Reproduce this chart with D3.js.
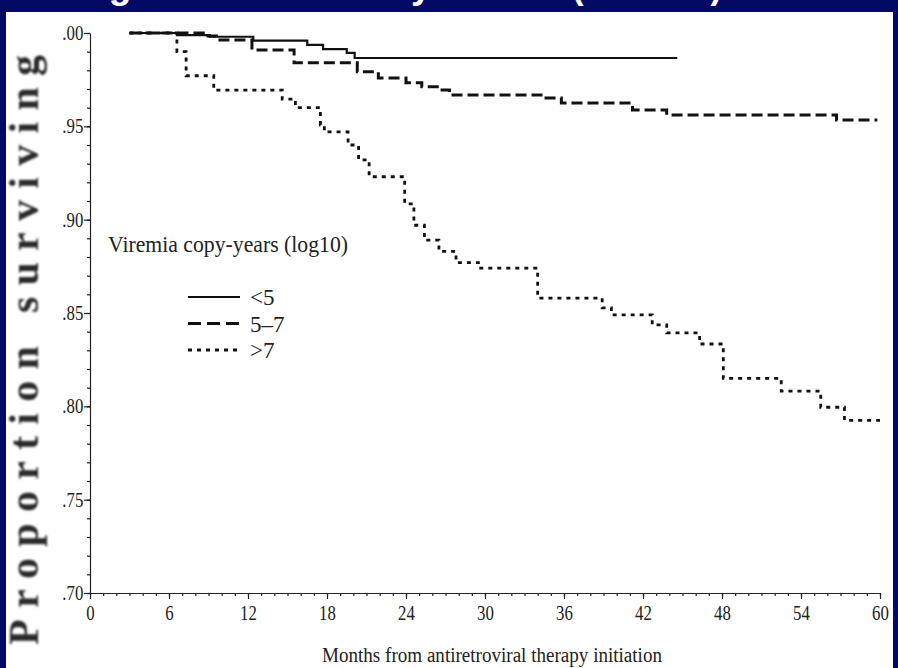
<!DOCTYPE html>
<html>
<head>
<meta charset="utf-8">
<script src="https://cdn.jsdelivr.net/npm/d3@7/dist/d3.min.js"></script>
<style>
  html, body { margin: 0; padding: 0; background: #020a66; }
  svg { display: block; }
</style>
</head>
<body>
<div id="vis"></div>
<script>
// ---- data ----
const titleMain = "Long-term Survival by VCY";
const titleNote = "(3 Strata)";
const groups = ["<5", "5\u20137", ">7"];

// Kaplan-Meier steps (months, proportion surviving)
const lowMonths  = [3.0, 6.6, 9.1, 12.4, 16.5, 17.7, 19.5, 20.1, 44.6];
const lowSurv    = [1.000, 0.9989, 0.9980, 0.9959, 0.9936, 0.9914, 0.9893, 0.9866, 0.9866];

const midMonths  = [3.0, 8.6, 9.6, 12.3, 15.5, 20.3, 21.9, 24.0, 25.2, 26.6, 27.3, 34.5, 35.8, 41.2, 43.8, 56.7, 59.8];
const midSurv    = [1.000, 0.9984, 0.9962, 0.9909, 0.9841, 0.9793, 0.9759, 0.9734, 0.9712, 0.9695, 0.9668, 0.9652, 0.9625, 0.9588, 0.9561, 0.9534, 0.9534];

const highMonths = [3.0, 6.6, 7.3, 9.4, 14.6, 15.6, 17.5, 17.8, 19.6, 20.4, 21.2, 23.9, 24.6, 25.4, 26.5, 27.8, 29.5, 34.0, 38.9, 39.6, 42.7, 43.8, 46.3, 48.1, 52.5, 55.5, 57.3, 60.0];
const highSurv   = [1.000, 0.9900, 0.9771, 0.9694, 0.9646, 0.9600, 0.9507, 0.9470, 0.9400, 0.9320, 0.9230, 0.9085, 0.8970, 0.8890, 0.8830, 0.8770, 0.8740, 0.8580, 0.8527, 0.8490, 0.8436, 0.8393, 0.8334, 0.8150, 0.8082, 0.7995, 0.7925, 0.7925];

const xTicks = [0, 6, 12, 18, 24, 30, 36, 42, 48, 54, 60];
const yTicks = [0.70, 0.75, 0.80, 0.85, 0.90, 0.95, 1.00];
const yTickLabels = [".70", ".75", ".80", ".85", ".90", ".95", ".00"];

// ---- layout ----
const W = 898, H = 668;
const margin = { top: 33, right: 18, bottom: 75, left: 90 };
const width = W - margin.left - margin.right,
      height = H - margin.top - margin.bottom;

const serif = "'Liberation Serif', 'Times New Roman', serif";
const sans = "'Liberation Sans', Arial, sans-serif";

const svg = d3.select("#vis").append("svg")
    .attr("width", W)
    .attr("height", H);

// slide frame
svg.append("rect").attr("width", W).attr("height", H).attr("fill", "#020a66");
svg.append("rect")
    .attr("x", 6).attr("y", 12)
    .attr("width", W - 11).attr("height", H - 12)
    .attr("fill", "#ffffff");

// slide title: only its descenders show at the top edge
svg.append("text")
    .attr("x", 41).attr("y", -2)
    .attr("fill", "#ffffff")
    .style("font-family", sans)
    .style("font-weight", "bold")
    .style("font-size", "37px")
    .text(titleMain);
svg.append("text")
    .attr("x", 572).attr("y", -2)
    .attr("textLength", 150)
    .attr("lengthAdjust", "spacingAndGlyphs")
    .attr("fill", "#ffffff")
    .style("font-family", sans)
    .style("font-weight", "bold")
    .style("font-size", "37px")
    .text(titleNote);

const x = d3.scaleLinear().domain([0, 60]).range([0, width]);
const y = d3.scaleLinear().domain([0.70, 1.00]).range([height, 0]);

const g = svg.append("g")
    .attr("transform", "translate(" + margin.left + "," + margin.top + ")");

// x axis: major ticks every 6 months, minor every month
g.append("g")
    .attr("transform", "translate(0," + height + ")")
    .call(d3.axisBottom(x).tickValues(d3.range(0, 61, 1)).tickSize(3).tickFormat(""))
    .call(a => a.select(".domain").remove());
g.append("g")
    .attr("class", "xaxis")
    .attr("transform", "translate(0," + height + ")")
    .call(d3.axisBottom(x).tickValues(xTicks).tickSize(6).tickPadding(6).tickSizeOuter(0));

// y axis: major every .05, minor every .01
g.append("g")
    .call(d3.axisLeft(y).tickValues(d3.range(70, 101, 1).map(v => v / 100)).tickSize(3).tickFormat(""))
    .call(a => a.select(".domain").remove());
g.append("g")
    .attr("class", "yaxis")
    .call(d3.axisLeft(y).tickValues(yTicks).tickSize(6).tickPadding(2).tickSizeOuter(0)
      .tickFormat((d, i) => yTickLabels[i]));

g.selectAll(".tick line, .domain").attr("stroke", "#222").attr("stroke-width", 1.2);
g.selectAll(".xaxis text, .yaxis text")
    .attr("fill", "#222")
    .attr("font-family", null)
    .attr("transform", "scale(0.84,1)")
    .style("font-family", serif)
    .style("font-size", "20px");
g.selectAll(".xaxis text").attr("dy", "0.75em");

// axis titles
svg.append("text")
    .attr("x", 322).attr("y", 662)
    .attr("textLength", 340)
    .attr("lengthAdjust", "spacingAndGlyphs")
    .attr("fill", "#222")
    .style("font-family", serif)
    .style("font-size", "20px")
    .text("Months from antiretroviral therapy initiation");

const defs = svg.append("defs");
defs.append("filter").attr("id", "soft")
  .append("feGaussianBlur").attr("stdDeviation", 0.9);

svg.append("text")
    .attr("transform", "translate(38,350) rotate(-90)")
    .attr("x", -295)
    .attr("textLength", 590)
    .attr("lengthAdjust", "spacing")
    .attr("fill", "#2a2a2a")
    .attr("filter", "url(#soft)")
    .style("font-family", serif)
    .style("font-weight", "bold")
    .style("font-size", "42px")
    .text("Proportion surviving");

// survival curves
const series = [
  { months: lowMonths,  surv: lowSurv,  dash: null,   sw: 2.2 },
  { months: midMonths,  surv: midSurv,  dash: "11,5", sw: 3 },
  { months: highMonths, surv: highSurv, dash: "4,5",  sw: 2.8 }
];

const line = d3.line()
    .x(d => x(d[0]))
    .y(d => y(d[1]))
    .curve(d3.curveStepAfter);

g.selectAll(".km")
  .data(series)
  .enter()
  .append("path")
    .attr("class", "km")
    .attr("d", s => line(s.months.map((m, i) => [m, s.surv[i]])))
    .attr("fill", "none")
    .attr("stroke", "#111")
    .attr("stroke-width", s => s.sw)
    .attr("stroke-dasharray", s => s.dash);

// legend
const legend = svg.append("g").attr("transform", "translate(108,252)");
legend.append("text")
    .attr("textLength", 240)
    .attr("lengthAdjust", "spacingAndGlyphs")
    .attr("fill", "#222")
    .style("font-family", serif)
    .style("font-size", "23px")
    .text("Viremia copy-years (log10)");

const rows = legend.selectAll(".row")
  .data(series)
  .enter()
  .append("g")
    .attr("transform", (d, i) => "translate(0," + (45 + i * 26.5) + ")");
rows.append("line")
    .attr("x1", 80).attr("x2", 132)
    .attr("stroke", "#111")
    .attr("stroke-width", s => s.sw)
    .attr("stroke-dasharray", (s, i) => i === 1 ? "13,6" : s.dash);
rows.append("text")
    .attr("x", 142).attr("y", 8)
    .attr("fill", "#222")
    .style("font-family", serif)
    .style("font-size", "23px")
    .text((d, i) => groups[i]);
</script>
</body>
</html>
